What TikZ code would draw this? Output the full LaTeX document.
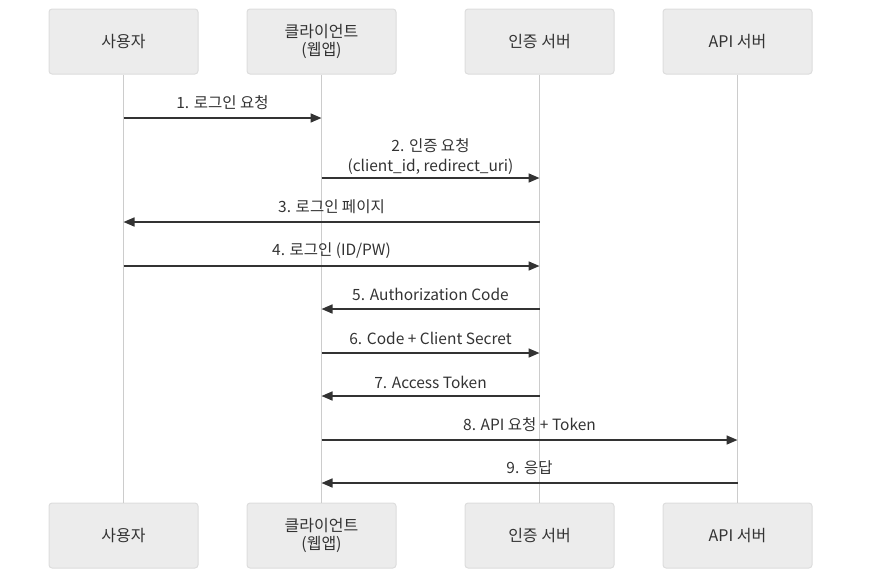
\documentclass[tikz,border=0pt]{standalone}
\usepackage{fontspec}
\setmainfont{Noto Sans CJK KR}
\usetikzlibrary{arrows.meta}
\definecolor{boxfill}{HTML}{ECECEC}
\definecolor{boxline}{HTML}{DDDDDD}
\definecolor{life}{HTML}{CCCCCC}
\definecolor{ink}{HTML}{333333}
\tikzset{
  actor/.style={draw=boxline, fill=boxfill, rounded corners=3pt, line width=1pt,
    minimum width=149pt, minimum height=65pt, inner sep=0pt, align=center,
    text=ink, font=\fontsize{16}{18}\selectfont},
  lifeline/.style={draw=life, line width=1.6pt},
  msg/.style={draw=ink, line width=1.6pt, -{Triangle[length=11pt,width=9pt]}},
  lbl/.style={text=ink, font=\fontsize{15.5}{20}\selectfont, inner sep=0pt, align=center}
}
\begin{document}
\begin{tikzpicture}[x=1pt,y=-1pt]
\useasboundingbox (0,0) rectangle (870,584);
% actors top
\node[actor] (uT) at (123.5,41.5) {사용자};
\node[actor] (cT) at (321.5,41.5) {클라이언트\\(웹앱)};
\node[actor] (aT) at (539.5,41.5) {인증 서버};
\node[actor] (sT) at (737.5,41.5) {API 서버};
% actors bottom
\node[actor] (uB) at (123.5,535.5) {사용자};
\node[actor] (cB) at (321.5,535.5) {클라이언트\\(웹앱)};
\node[actor] (aB) at (539.5,535.5) {인증 서버};
\node[actor] (sB) at (737.5,535.5) {API 서버};
% lifelines
\draw[lifeline] (uT.south) -- (uB.north);
\draw[lifeline] (cT.south) -- (cB.north);
\draw[lifeline] (aT.south) -- (aB.north);
\draw[lifeline] (sT.south) -- (sB.north);
% message end points
\coordinate (m1a) at (123.5,118); \coordinate (m1b) at (321.5,118);
\coordinate (m2a) at (321.5,178); \coordinate (m2b) at (539.5,178);
\coordinate (m3a) at (539.5,222); \coordinate (m3b) at (123.5,222);
\coordinate (m4a) at (123.5,266); \coordinate (m4b) at (539.5,266);
\coordinate (m5a) at (539.5,309); \coordinate (m5b) at (321.5,309);
\coordinate (m6a) at (321.5,353); \coordinate (m6b) at (539.5,353);
\coordinate (m7a) at (539.5,396); \coordinate (m7b) at (321.5,396);
\coordinate (m8a) at (321.5,440); \coordinate (m8b) at (737.5,440);
\coordinate (m9a) at (737.5,483); \coordinate (m9b) at (321.5,483);
% messages
\draw[msg] (m1a) -- (m1b);
\draw[msg] (m2a) -- (m2b);
\draw[msg] (m3a) -- (m3b);
\draw[msg] (m4a) -- (m4b);
\draw[msg] (m5a) -- (m5b);
\draw[msg] (m6a) -- (m6b);
\draw[msg] (m7a) -- (m7b);
\draw[msg] (m8a) -- (m8b);
\draw[msg] (m9a) -- (m9b);
% labels
\node[lbl] (l1) at (222.5,103) {1. 로그인 요청};
\node[lbl] (l2) at (430.5,157) {2. 인증 요청\\(client\_id, redirect\_uri)};
\node[lbl] (l3) at (331.5,207) {3. 로그인 페이지};
\node[lbl] (l4) at (331.5,251) {4. 로그인 (ID/PW)};
\node[lbl] (l5) at (430.5,294) {5. Authorization Code};
\node[lbl] (l6) at (430.5,338) {6. Code + Client Secret};
\node[lbl] (l7) at (430.5,382) {7. Access Token};
\node[lbl] (l8) at (529.5,425) {8. API 요청 + Token};
\node[lbl] (l9) at (529.5,468) {9. 응답};
\end{tikzpicture}
\end{document}
